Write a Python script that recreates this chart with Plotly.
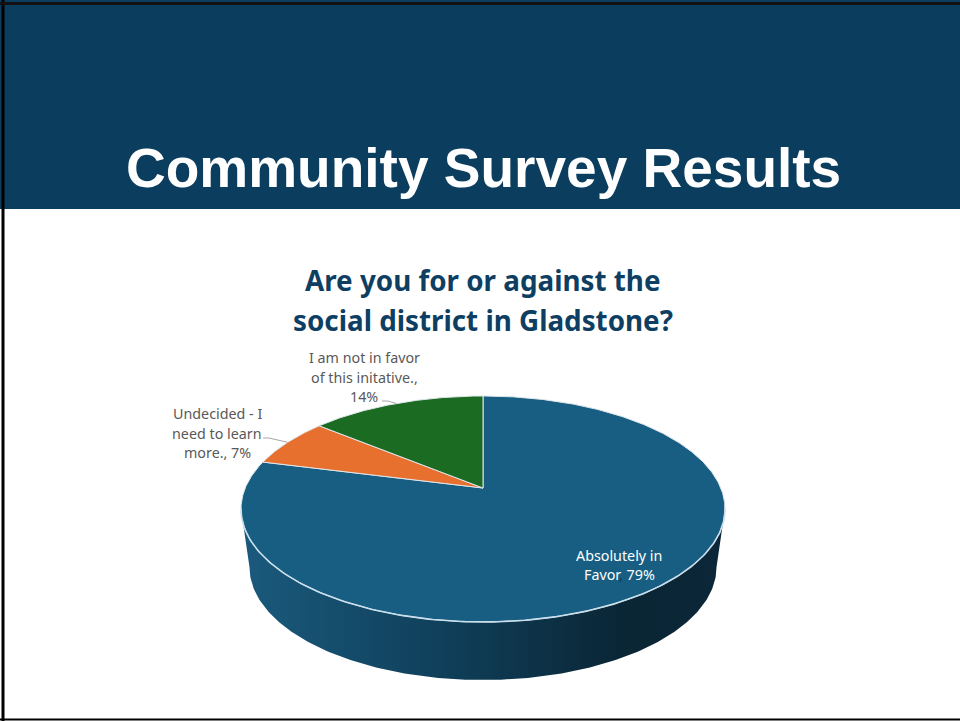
import numpy as np
import plotly.graph_objects as go

# ---------------- data ----------------
categories = ["Absolutely in Favor", "Undecided - I need to learn more.", "I am not in favor of this initative."]
values = [79, 7, 14]
label_lines = [["Absolutely in", "Favor"], ["Undecided - I", "need to learn", "more.,"], ["I am not in favor", "of this initative.,", ""]]
slice_colors = ["#175e82", "#e8702e", "#1b6b23"]
slide_title = "Community Survey Results"
chart_title = ["Are you for or against the", "social district in Gladstone?"]

# ---------------- geometry (pixel space) ----------------
W, H = 960, 721
CX, CY = 483, 488          # pie apex on screen
R, S, C = 237.8, 109.1, 0.1858   # perspective projection of the pie disc
DEPTH = 58
BOT_K = 0.965


def proj(theta_deg, dy=0.0, k=1.0):
    t = np.radians(theta_deg)
    X, Y = np.cos(t), np.sin(t)
    d = 1 + C * Y
    return CX + k * R * X / d, CY - S * Y / d + dy


fig = go.Figure()

# side wall (front half of the disc)
a_left = 180 + np.degrees(np.arcsin(C))
a_right = 360 - np.degrees(np.arcsin(C))
arc = np.linspace(a_left, a_right, 200)
tx, ty = proj(arc)
bx, by = proj(arc[::-1], dy=DEPTH, k=BOT_K)
fig.add_trace(go.Scatter(
    x=np.concatenate([tx, bx, tx[:1]]), y=np.concatenate([ty, by, ty[:1]]),
    mode="lines", line=dict(width=0), fill="toself",
    fillgradient=dict(type="horizontal",
                      colorscale=[[0, "#1a5a7d"], [0.45, "#0f3d57"], [0.8, "#0a2534"], [1, "#0b2738"]]),
    hoverinfo="skip", showlegend=False))

# top face slices
total = sum(values)
start = 90.0
mids = []
for cat, v, col in zip(categories, values, slice_colors):
    sweep = v / total * 360
    th = np.linspace(start, start - sweep, max(int(sweep * 2), 4))
    px, py = proj(th)
    fig.add_trace(go.Scatter(
        x=np.concatenate([[CX], px, [CX]]), y=np.concatenate([[CY], py, [CY]]),
        mode="lines", line=dict(color="#dfe6ea", width=1), fill="toself", fillcolor=col,
        name=cat, hoverinfo="name", showlegend=False))
    mids.append(start - sweep / 2)
    start -= sweep

# rim highlight
fig.add_trace(go.Scatter(x=tx, y=ty, mode="lines", line=dict(color="#c9dfec", width=1.6),
                         hoverinfo="skip", showlegend=False))

# labels (one annotation per line for exact line spacing)
LINE_GAP = 19.5
label_pos = [(619, 565), (217, 433), (364, 377)]
label_end = [None, (263, 438), (382, 401)]
for i, v in enumerate(values):
    pct = round(v / total * 100)
    lines = list(label_lines[i])
    if i == 0:
        lines[-1] = lines[-1] + "<span style='color:#0d3a55'>,</span> " + f"{pct}%"
        col = "#ffffff"
    else:
        lines[-1] = f"{pct}%" if lines[-1] == "" else lines[-1] + f" {pct}%"
        col = "#595959"
    n = len(lines)
    for j, ln in enumerate(lines):
        fig.add_annotation(x=label_pos[i][0], y=label_pos[i][1] + (j - (n - 1) / 2) * LINE_GAP,
                           text=ln, showarrow=False, xanchor="center", yanchor="middle",
                           font=dict(family="Noto Sans", size=14.3, color=col))
    if label_end[i] is not None:
        ex, ey = proj(mids[i])
        lx, ly = label_end[i]
        fig.add_trace(go.Scatter(x=[lx, lx + 6, float(ex)], y=[ly, ly, float(ey)], mode="lines",
                                 line=dict(color="#a6a6a6", width=1), hoverinfo="skip", showlegend=False))

# titles
fig.add_annotation(x=483, y=168, text=slide_title, showarrow=False, xanchor="center", yanchor="middle",
                   font=dict(family="Liberation Sans", size=55, color="#ffffff", weight="bold"))
for j, line in enumerate(chart_title):
    fig.add_annotation(x=483, y=280 + 40 * j, text=line, showarrow=False, xanchor="center", yanchor="middle",
                       font=dict(family="Noto Sans", size=27.8, color="#0e3f63", weight="bold"))

# header band and slide border
fig.add_shape(type="rect", x0=0, x1=W, y0=0, y1=209, fillcolor="#0b3d5e", line_width=0, layer="below")
fig.add_shape(type="line", x0=3, x1=3, y0=0, y1=H, line=dict(color="#000000", width=3))
fig.add_shape(type="line", x0=0, x1=W, y0=3.5, y1=3.5, line=dict(color="#111111", width=3))
fig.add_shape(type="line", x0=0, x1=W, y0=719.5, y1=719.5, line=dict(color="#000000", width=2))

fig.update_layout(
    width=W, height=H, margin=dict(l=0, r=0, t=0, b=0),
    paper_bgcolor="#ffffff", plot_bgcolor="#ffffff",
    xaxis=dict(range=[0, W], visible=False, fixedrange=True),
    yaxis=dict(range=[H, 0], visible=False, fixedrange=True),
    showlegend=False,
)

fig.write_html("out.html", config={"displayModeBar": False},
               post_script="document.body.style.margin='0';document.body.style.overflow='hidden';")
